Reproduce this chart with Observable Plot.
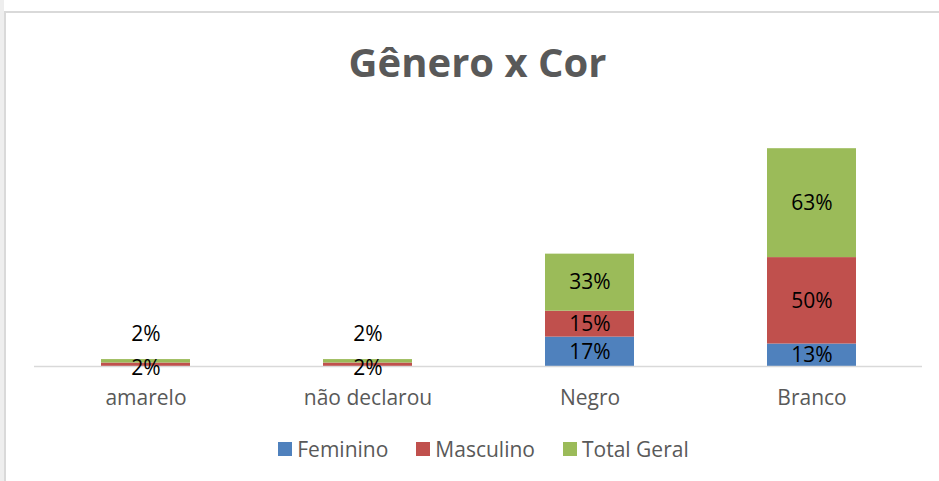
<!DOCTYPE html>
<html>
<head>
<meta charset="utf-8">
<script src="https://cdn.jsdelivr.net/npm/d3@7"></script>
<script src="https://cdn.jsdelivr.net/npm/@observablehq/plot@0.6"></script>
<style>
  html, body { margin: 0; padding: 0; background: #fff; }
  #wrap { position: relative; width: 939px; height: 481px; overflow: hidden; background: #fff; font-family: "Open Sans", sans-serif; }
  #strip { position: absolute; left: 0; top: 0; width: 4px; height: 481px; background: #eeeeee; }
  #frame { position: absolute; left: 4px; top: 11px; width: 940px; height: 480px; border-left: 2px solid #d9d9d9; border-top: 2px solid #d9d9d9; box-sizing: border-box; }
  #title { position: absolute; left: 0; width: 955px; top: 38px; text-align: center; font-size: 40px; font-weight: 700; color: #595959; line-height: 48px; }
  #chart { position: absolute; left: 0; top: 0; }
  #legend { position: absolute; left: 0; width: 939px; top: 436px; display: flex; justify-content: center; font-size: 21px; color: #595959; line-height: 26px; padding-left: 28px; box-sizing: border-box; }
  .item { display: flex; align-items: center; margin: 0 14px; }
  .sw { width: 14px; height: 14px; margin-right: 5px; }
</style>
</head>
<body>
<div id="wrap">
  <div id="strip"></div>
  <div id="frame"></div>
  <div id="chart"></div>
  <div id="title">Gênero x Cor</div>
  <div id="legend"></div>
</div>
<script>
const categories = ["amarelo", "não declarou", "Negro", "Branco"];
const series = ["Feminino", "Masculino", "Total Geral"];
const colors = ["#4f81bd", "#c0504d", "#9bbb59"];
const feminino = [0, 0, 17, 13];
const masculino = [2, 2, 15, 50];
const totalGeral = [2, 2, 33, 63];

const seriesValues = [feminino, masculino, totalGeral];
const data = [];
series.forEach((s, si) => {
  categories.forEach((c, ci) => {
    data.push({cat: c, series: s, value: seriesValues[si][ci], catTotal: feminino[ci] + masculino[ci] + totalGeral[ci]});
  });
});
const fmt = v => v + "%";
const isSmall = d => d.catTotal < 10;

const chart = Plot.plot({
  width: 939,
  height: 481,
  marginLeft: 34,
  marginRight: 17,
  marginTop: 124,
  marginBottom: 115,
  style: {background: "transparent", fontFamily: "Open Sans, sans-serif"},
  x: {domain: categories, paddingInner: 0.6, paddingOuter: 0.3, label: null, axis: null},
  y: {domain: [0, 140], axis: null},
  color: {domain: series, range: colors},
  marks: [
    Plot.barY(data, Plot.stackY({x: "cat", y: "value", fill: "series", order: null})),
    Plot.ruleY([0], {stroke: "#d9d9d9", strokeWidth: 1.5}),
    Plot.axisX({tickSize: 0, tickPadding: 24, fontSize: 21, fill: "#595959", label: null}),
    Plot.textY(data, Plot.stackY({x: "cat", y: "value", order: null,
      text: d => (!isSmall(d) && d.value > 0) ? fmt(d.value) : "",
      fontSize: 21, fill: "#000", dy: 0})),
    Plot.textY(data, Plot.stackY({x: "cat", y: "value", order: null,
      text: d => (isSmall(d) && d.series === "Masculino" && d.value > 0) ? fmt(d.value) : "",
      fontSize: 21, fill: "#000", dy: 3})),
    Plot.textY(data, Plot.stackY({x: "cat", y: "value", order: null,
      text: d => (isSmall(d) && d.series === "Total Geral" && d.value > 0) ? fmt(d.value) : "",
      fontSize: 21, fill: "#000", dy: -27}))
  ]
});
document.getElementById("chart").appendChild(chart);

const legend = document.getElementById("legend");
series.forEach((s, i) => {
  const item = document.createElement("div");
  item.className = "item";
  const sw = document.createElement("span");
  sw.className = "sw";
  sw.style.background = colors[i];
  const t = document.createElement("span");
  t.textContent = s;
  item.appendChild(sw);
  item.appendChild(t);
  legend.appendChild(item);
});
</script>
</body>
</html>
